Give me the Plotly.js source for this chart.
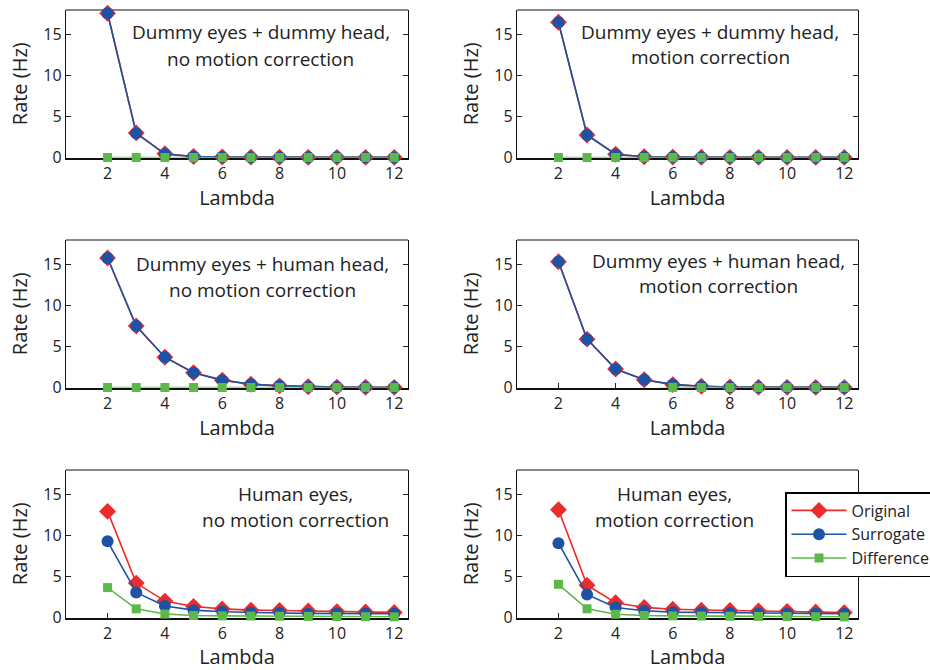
<!DOCTYPE html>
<html>
<head>
<meta charset="utf-8">
<script src="https://cdn.plot.ly/plotly-3.0.1.min.js"></script>
<style>html,body{margin:0;padding:0;background:#fff;overflow:hidden;}#chart{width:930px;height:670px;overflow:hidden;}</style>
</head>
<body>
<div id="chart"></div>
<script>
const lambda = [2,3,4,5,6,7,8,9,10,11,12];
const seriesNames = ["Original","Surrogate","Difference"];

const titles = [
  ["Dummy eyes + dummy head,","no motion correction"],
  ["Dummy eyes + dummy head,","motion correction"],
  ["Dummy eyes + human head,","no motion correction"],
  ["Dummy eyes + human head,","motion correction"],
  ["Human eyes,","no motion correction"],
  ["Human eyes,","motion correction"]
];

const original1  = [17.6, 3.0, 0.45, 0.12, 0.06, 0.04, 0.03, 0.02, 0.02, 0.01, 0.01];
const surrogate1 = [17.6, 2.95, 0.42, 0.11, 0.05, 0.04, 0.03, 0.02, 0.02, 0.01, 0.01];
const difference1= [0, 0, 0, 0, 0, 0, 0, 0, 0, 0, 0];

const original2  = [16.5, 2.75, 0.4, 0.1, 0.05, 0.03, 0.02, 0.02, 0.01, 0.01, 0.01];
const surrogate2 = [16.5, 2.75, 0.38, 0.1, 0.05, 0.03, 0.02, 0.02, 0.01, 0.01, 0.01];
const difference2= [0, 0, 0, 0, 0, 0, 0, 0, 0, 0, 0];

const original3  = [15.8, 7.5, 3.7, 1.8, 0.9, 0.4, 0.2, 0.1, 0.05, 0.03, 0.02];
const surrogate3 = [15.8, 7.5, 3.7, 1.8, 0.9, 0.4, 0.2, 0.1, 0.05, 0.03, 0.02];
const difference3= [0, 0, 0, 0, 0, 0, 0, 0, 0, 0, 0];

const original4  = [15.35, 5.9, 2.25, 0.95, 0.35, 0.15, 0.07, 0.04, 0.02, 0.01, 0.01];
const surrogate4 = [15.35, 5.9, 2.25, 0.95, 0.38, 0.15, 0.07, 0.04, 0.02, 0.01, 0.01];
const difference4= [-1.2, -0.8, -0.5, -0.3, 0.02, 0, 0, 0, 0, 0, 0];

const original5  = [12.95, 4.2, 2.0, 1.35, 1.05, 0.9, 0.85, 0.8, 0.72, 0.68, 0.62];
const surrogate5 = [9.3, 3.06, 1.4, 0.9, 0.7, 0.58, 0.55, 0.5, 0.5, 0.48, 0.45];
const difference5= [3.65, 1.06, 0.42, 0.25, 0.2, 0.18, 0.15, 0.13, 0.12, 0.1, 0.08];

const original6  = [13.15, 3.95, 1.8, 1.23, 1.0, 0.9, 0.85, 0.8, 0.75, 0.68, 0.6];
const surrogate6 = [9.07, 2.82, 1.23, 0.82, 0.65, 0.6, 0.55, 0.5, 0.5, 0.48, 0.45];
const difference6= [4.05, 1.06, 0.4, 0.25, 0.2, 0.18, 0.15, 0.13, 0.12, 0.1, 0.08];

const yTicks = [0,5,10,15];
const xTicks = [2,4,6,8,10,12];
const xTitle = "Lambda";
const yTitle = "Rate (Hz)";

const panels = [
  [original1, surrogate1, difference1],
  [original2, surrogate2, difference2],
  [original3, surrogate3, difference3],
  [original4, surrogate4, difference4],
  [original5, surrogate5, difference5],
  [original6, surrogate6, difference6]
];

const W = 930, H = 670;
const colX = [[66,408],[517,858]];
const rowY = [[10,157.5],[240,387.5],[470,617.5]];
const textPos = [
  {x:0.57, y1:0.85, y2:0.67},
  {x:0.566, y1:0.85, y2:0.68},
  {x:0.575, y1:0.84, y2:0.66},
  {x:0.59, y1:0.86, y2:0.69},
  {x:0.67, y1:0.84, y2:0.66},
  {x:0.463, y1:0.84, y2:0.66}
];

const colors = ["#ec2c2a","#1d52a5","#5cb848"];
const symbols = ["diamond","circle","square"];
const sizes = [13,12,9];

const FONT = "Open Sans, Noto Sans, sans-serif";
const traces = [];
const layout = {
  width: W, height: H,
  margin: {l:0, r:0, t:0, b:0, autoexpand: false},
  paper_bgcolor: "#fff", plot_bgcolor: "#fff",
  showlegend: true,
  font: {family: FONT, color: "#222"},
  legend: {
    x: 785/W, y: 1-492/H, xanchor: "left", yanchor: "top",
    bordercolor: "#000", borderwidth: 1.5, bgcolor: "#fff",
    font: {family: FONT, size: 16, color: "#222"},
    itemwidth: 55, tracegroupgap: 0
  },
  annotations: [],
  shapes: []
};

panels.forEach((p, i) => {
  const r = Math.floor(i/2), c = i%2;
  const ax = i === 0 ? "" : String(i+1);
  const xa = "xaxis" + ax, ya = "yaxis" + ax;
  const xd = [colX[c][0]/W, colX[c][1]/W];
  const yd = [1-rowY[r][1]/H, 1-rowY[r][0]/H];
  layout[xa] = {
    domain: xd, anchor: "y"+ax, range: [0.55, 12.48],
    tickvals: xTicks, ticks: "inside", ticklen: 5, tickcolor: "#222",
    showline: true, linecolor: "#111", linewidth: 2.5, mirror: false,
    showgrid: false, zeroline: false, layer: "below traces",
    tickfont: {family: FONT, size: 16, color: "#222"},
    title: {text: xTitle, font: {family: FONT, size: 20, color: "#222"}, standoff: 3},
    automargin: false, fixedrange: true
  };
  layout[ya] = {
    domain: yd, anchor: "x"+ax, range: [0, 18],
    tickvals: yTicks, ticks: "inside", ticklen: 5, tickcolor: "#222",
    showline: true, linecolor: "#111", linewidth: 1.2, mirror: "ticks",
    showgrid: false, zeroline: false, layer: "below traces",
    tickfont: {family: FONT, size: 16, color: "#222"},
    title: {text: yTitle, font: {family: FONT, size: 20, color: "#222"}, standoff: 10},
    automargin: false, fixedrange: true
  };
  layout.shapes.push({type:"line", xref:"x"+ax+" domain", yref:"y"+ax+" domain",
    x0:0, x1:1, y0:1, y1:1, line:{color:"#111", width:1.2}, layer:"below"});
  p.forEach((vals, s) => {
    traces.push({
      type: "scatter", mode: "lines+markers",
      x: lambda, y: vals, xaxis: "x"+ax, yaxis: "y"+ax,
      name: seriesNames[s], legendgroup: seriesNames[s],
      showlegend: i === 5,
      cliponaxis: false,
      line: {color: colors[s], width: 1.6},
      marker: {symbol: symbols[s], size: sizes[s], color: colors[s], line: {width: 0}}
    });
  });
  const tp = textPos[i];
  layout.annotations.push({
    xref: "x"+ax+" domain", yref: "y"+ax+" domain", x: tp.x, y: tp.y1,
    text: titles[i][0], showarrow: false, xanchor: "center", yanchor: "middle",
    font: {family: FONT, size: 19, color: "#222"}
  });
  layout.annotations.push({
    xref: "x"+ax+" domain", yref: "y"+ax+" domain", x: tp.x, y: tp.y2,
    text: titles[i][1], showarrow: false, xanchor: "center", yanchor: "middle",
    font: {family: FONT, size: 19, color: "#222"}
  });
});

Plotly.newPlot("chart", traces, layout, {displayModeBar: false, staticPlot: true});
</script>
</body>
</html>
